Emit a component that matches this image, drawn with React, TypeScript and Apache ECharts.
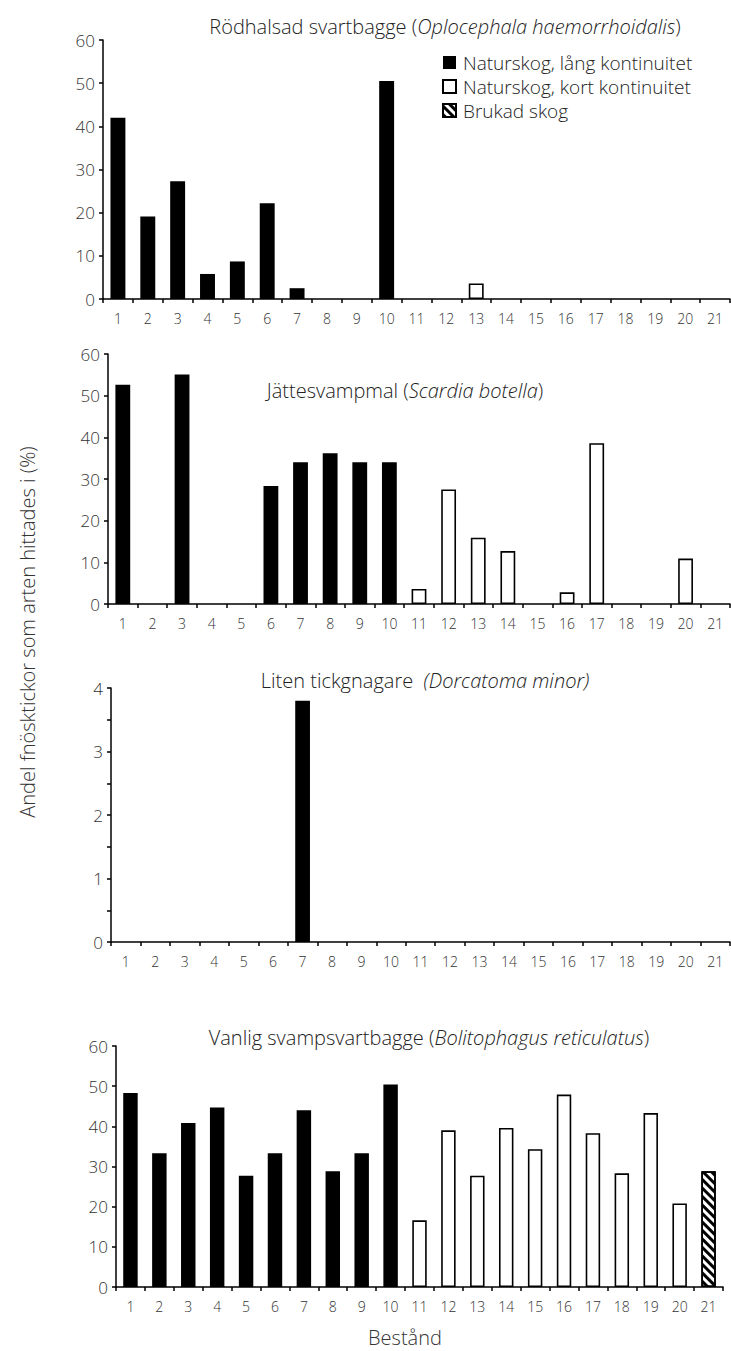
import React, { useEffect, useRef } from "react";
import * as echarts from "echarts";

const categories = ["1","2","3","4","5","6","7","8","9","10","11","12","13","14","15","16","17","18","19","20","21"];
// L = Naturskog, lång kontinuitet; K = Naturskog, kort kontinuitet; B = Brukad skog
const standType = ["L","L","L","L","L","L","L","L","L","L","K","K","K","K","K","K","K","K","K","K","B"];

const oplocephala = [42, 19.1, 27.3, 5.8, 8.7, 22.2, 2.5, 0, 0, 50.5, 0, 0, 3.6, 0, 0, 0, 0, 0, 0, 0, 0];
const scardia = [52.6, 0, 55.1, 0, 0, 28.3, 34, 36.2, 34, 34, 3.6, 27.5, 15.9, 12.7, 0, 2.8, 38.6, 0, 0, 10.9, 0];
const dorcatoma = [0, 0, 0, 0, 0, 0, 3.8, 0, 0, 0, 0, 0, 0, 0, 0, 0, 0, 0, 0, 0, 0];
const bolitophagus = [48.3, 33.3, 40.8, 44.7, 27.7, 33.3, 44.0, 28.8, 33.3, 50.4, 16.6, 39.0, 27.7, 39.6, 34.3, 47.9, 38.3, 28.3, 43.3, 20.8, 28.8];

const seriesNames = { L: "Naturskog, lång kontinuitet", K: "Naturskog, kort kontinuitet", B: "Brukad skog" };
const yAxisTitle = "Andel fnösktickor som arten hittades i (%)";
const xAxisTitle = "Bestånd";

const panels = [
  { values: oplocephala, max: 60, interval: 10, common: "Rödhalsad svartbagge (", latin: "Oplocephala haemorrhoidalis", close: ")" },
  { values: scardia, max: 60, interval: 10, common: "Jättesvampmal (", latin: "Scardia botella", close: ")" },
  { values: dorcatoma, max: 4, interval: 0.5, common: "Liten tickgnagare  ", latin: "(Dorcatoma minor)", close: "" },
  { values: bolitophagus, max: 60, interval: 10, common: "Vanlig svampsvartbagge (", latin: "Bolitophagus reticulatus", close: ")" },
];

const FONT = "'Open Sans', 'Noto Sans', sans-serif";
const W = 300;

const grids = [
  { left: 103, top: 40, width: 627, height: 259 },
  { left: 108, top: 354, width: 622, height: 250 },
  { left: 111, top: 688, width: 619, height: 254 },
  { left: 116, top: 1046, width: 607, height: 241 },
];
const titlePos = [
  { x: 440, y: 23 },
  { x: 400, y: 387 },
  { x: 420, y: 677 },
  { x: 424, y: 1034 },
];

export default function App() {
  const ref = useRef<HTMLDivElement>(null);
  useEffect(() => {
    if (!ref.current) return;
    const chart = echarts.init(ref.current, null, { renderer: "svg" });
    const axisLine = { show: true, lineStyle: { color: "#000", width: 1.5 } };
    const xAxis = panels.map((p, i) => ({
      type: "category",
      gridIndex: i,
      data: categories,
      boundaryGap: true,
      axisLine,
      axisTick: { show: true, length: 4, interval: 0, lineStyle: { color: "#000", width: 1.5 } },
      axisLabel: { interval: 0, fontSize: 14, color: "#333", margin: 12, fontFamily: FONT, fontWeight: W },
      splitLine: { show: false },
    }));
    const yAxis = panels.map((p, i) => ({
      type: "value",
      gridIndex: i,
      min: 0,
      max: p.max,
      interval: p.interval,
      axisLine,
      axisTick: { show: true, length: 4, lineStyle: { color: "#000", width: 1.5 } },
      axisLabel: {
        fontSize: 17,
        color: "#333",
        margin: 8,
        fontFamily: FONT,
        fontWeight: W,
        formatter: (v: number) => (Number.isInteger(v) ? String(v) : ""),
      },
      splitLine: { show: false },
    }));
    const decal = {
      symbol: "rect",
      symbolSize: 1,
      dashArrayX: [1, 0],
      dashArrayY: [2.5, 2.5],
      rotation: Math.PI / 4,
      color: "#000",
      backgroundColor: "#fff",
    };
    const series: any[] = [];
    panels.forEach((p, i) => {
      (["L", "K", "B"] as const).forEach((t) => {
        series.push({
          type: "bar",
          name: seriesNames[t],
          xAxisIndex: i,
          yAxisIndex: i,
          barWidth: "50%",
          barGap: "-100%",
          data: p.values.map((v, j) => (standType[j] === t && v > 0 ? v : null)),
          itemStyle:
            t === "L"
              ? { color: "#000" }
              : t === "K"
              ? { color: "#fff", borderColor: "#000", borderWidth: 1.6 }
              : { color: "#fff", borderColor: "#000", borderWidth: 1.6, decal },
        });
      });
    });
    const titles = panels.map((p, i) => ({
      left: titlePos[i].x,
      top: titlePos[i].y - 12,
      textAlign: "center",
      text: `{n|${p.common}}{i|${p.latin}}{n|${p.close}}`,
      textStyle: {
        fontWeight: W,
        rich: {
          n: { fontSize: 20, color: "#222", fontFamily: FONT, fontWeight: W },
          i: { fontSize: 20, color: "#222", fontStyle: "italic", fontFamily: FONT, fontWeight: W },
        },
      },
    }));
    chart.setOption({
      animation: false,
      backgroundColor: "#fff",
      title: titles,
      grid: grids,
      xAxis,
      yAxis,
      legend: {
        data: [seriesNames.L, seriesNames.K, seriesNames.B],
        orient: "vertical",
        left: 437,
        top: 48,
        itemWidth: 13,
        itemHeight: 13,
        itemGap: 5,
        icon: "rect",
        selectedMode: false,
        textStyle: { fontSize: 19, lineHeight: 19, color: "#222", fontFamily: FONT, fontWeight: W, padding: [0, 0, 0, 2] },
      },
      series,
      graphic: [
        {
          type: "text",
          x: 27,
          y: 632,
          rotation: Math.PI / 2,
          style: { text: yAxisTitle, align: "center", verticalAlign: "middle", fontSize: 20, fill: "#333", fontFamily: FONT, fontWeight: W },
        },
        {
          type: "text",
          x: 405,
          y: 1337,
          style: { text: xAxisTitle, align: "center", verticalAlign: "middle", fontSize: 20, fill: "#333", fontFamily: FONT, fontWeight: W },
        },
      ],
    });
    return () => chart.dispose();
  }, []);
  return <div ref={ref} style={{ position: "absolute", left: 0, top: 0, width: 731, height: 1351 }} />;
}
